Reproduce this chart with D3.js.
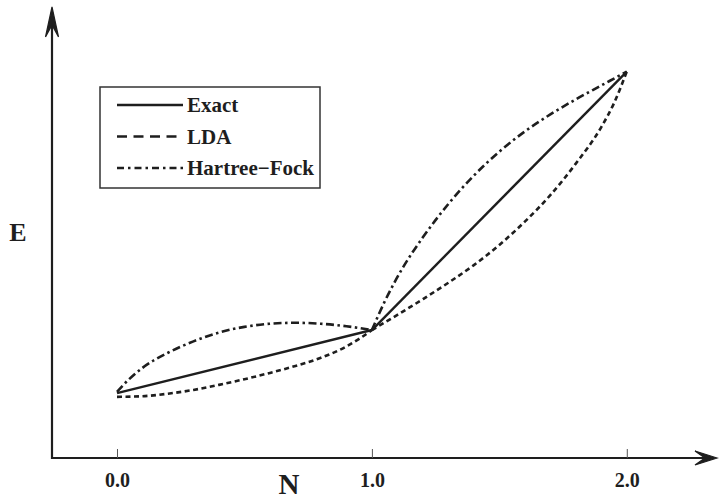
<!DOCTYPE html>
<html>
<head>
<meta charset="utf-8">
<script src="https://cdn.jsdelivr.net/npm/d3@7"></script>
<style>
  body{margin:0;background:#fff;}
  svg{display:block;font-family:"Liberation Serif","Times New Roman",serif;font-weight:bold;}
</style>
</head>
<body>
<svg id="chart" width="720" height="500"></svg>
<script>
// N values and energies (arbitrary energy units, E(0)=0, E(1)=1)
var exactN = [0, 1, 2];
var exactE = [0, 1, 5.1];

var ldaN = [0, 0.1, 0.2, 0.3, 0.4, 0.5, 0.6, 0.7, 0.8, 0.9, 0.95, 1.0,
            1.1, 1.2, 1.3, 1.4, 1.5, 1.6, 1.7, 1.8, 1.9, 1.95, 2.0];
var ldaE = [-0.06, -0.05, -0.01, 0.05, 0.13, 0.22, 0.32, 0.43, 0.56, 0.74, 0.86, 1.0,
            1.24, 1.49, 1.75, 2.03, 2.35, 2.72, 3.14, 3.64, 4.22, 4.6, 5.1];

var hfN = [0, 0.05, 0.1, 0.2, 0.3, 0.4, 0.5, 0.6, 0.7, 0.8, 0.9, 1.0,
           1.05, 1.12, 1.2, 1.3, 1.4, 1.5, 1.6, 1.7, 1.8, 1.9, 2.0];
var hfE = [0.02, 0.23, 0.40, 0.64, 0.82, 0.96, 1.05, 1.10, 1.115, 1.10, 1.06, 1.0,
           1.45, 1.98, 2.47, 3.0, 3.45, 3.83, 4.15, 4.42, 4.66, 4.88, 5.1];

var xTicks = [0, 1, 2];
var legendNames = ["Exact", "LDA", "Hartree\u2212Fock"];

var ink = "#1e1e1e";
var svg = d3.select("#chart");

var x = d3.scaleLinear().domain([-0.255, 2.35]).range([52, 716]);
var y = d3.scaleLinear().domain([-1.03, 5.95]).range([458, 18]);

var x0 = x.range()[0], x1 = x.range()[1], yb = y.range()[0];

// axes with arrow heads
svg.append("line").attr("x1", x0).attr("y1", yb).attr("x2", x1 - 4).attr("y2", yb)
   .attr("stroke", ink).attr("stroke-width", 2.2);
svg.append("line").attr("x1", x0).attr("y1", yb + 1).attr("x2", x0).attr("y2", 12)
   .attr("stroke", ink).attr("stroke-width", 2.2);

svg.append("path")
   .attr("d", "M" + x0 + ",7 L" + (x0 - 6.5) + ",37 L" + x0 + ",25 L" + (x0 + 6.5) + ",37 Z")
   .attr("fill", ink).attr("stroke", ink).attr("stroke-width", 1.2);
svg.append("path")
   .attr("d", "M" + (x1 + 1) + "," + yb + " L" + (x1 - 21) + "," + (yb - 7) + " L" + (x1 - 11) + "," + yb +
              " L" + (x1 - 21) + "," + (yb + 7) + " Z")
   .attr("fill", ink).attr("stroke", ink).attr("stroke-width", 1.2);

var xAxis = d3.axisBottom(x).tickValues(xTicks).tickSize(-9).tickPadding(15)
              .tickFormat(d3.format(".1f"));
var gx = svg.append("g").attr("transform", "translate(0," + yb + ")").call(xAxis);
gx.select(".domain").remove();
gx.selectAll(".tick line").attr("stroke", "#555").attr("stroke-width", 1);
gx.selectAll(".tick text").attr("fill", ink)
  .style("font-family", "'Liberation Serif','Times New Roman',serif")
  .style("font-weight", "bold").style("font-size", "20px");

svg.append("text").attr("x", 289).attr("y", 494).attr("text-anchor", "middle")
   .attr("fill", ink).style("font-size", "29px").text("N");
svg.append("text").attr("x", 18).attr("y", 241).attr("text-anchor", "middle")
   .attr("fill", ink).style("font-size", "26px").text("E");

// curves: split each series at N=1 where it has a kink
function segments(ns, es){
  var pts = ns.map(function(n, i){ return [n, es[i]]; });
  return [pts.filter(function(p){ return p[0] <= 1; }),
          pts.filter(function(p){ return p[0] >= 1; })];
}

var line = d3.line()
  .x(function(d){ return x(d[0]); })
  .y(function(d){ return y(d[1]); })
  .curve(d3.curveMonotoneX);

var series = [
  {n: exactN, e: exactE, dash: null, width: 2.4},
  {n: ldaN, e: ldaE, dash: "5,3.5", width: 2.6},
  {n: hfN, e: hfE, dash: "8,3.5,2.5,3.5", width: 2.6}
];

series.forEach(function(s){
  segments(s.n, s.e).forEach(function(seg){
    svg.append("path").datum(seg)
       .attr("d", line)
       .attr("fill", "none")
       .attr("stroke", ink)
       .attr("stroke-width", s.width)
       .attr("stroke-dasharray", s.dash);
  });
});

// legend
var legendDash = [null, "10,6.5", "7,4,2.5,4"];
var lg = svg.append("g").attr("transform", "translate(100,87)");
lg.append("rect").attr("width", 220).attr("height", 101)
  .attr("fill", "#fff").attr("stroke", "#333").attr("stroke-width", 1.5);

var rows = lg.selectAll(".row").data(legendNames).enter().append("g")
  .attr("class", "row")
  .attr("transform", function(d, i){ return "translate(0," + (18 + i * 31.5) + ")"; });

rows.append("line").attr("x1", 17).attr("x2", 83).attr("y1", 0).attr("y2", 0)
    .attr("stroke", ink).attr("stroke-width", 2.5)
    .attr("stroke-dasharray", function(d, i){ return legendDash[i]; });

rows.append("text").attr("x", 87).attr("y", 7).attr("fill", ink)
    .style("font-size", "21px").text(function(d){ return d; });
</script>
</body>
</html>
